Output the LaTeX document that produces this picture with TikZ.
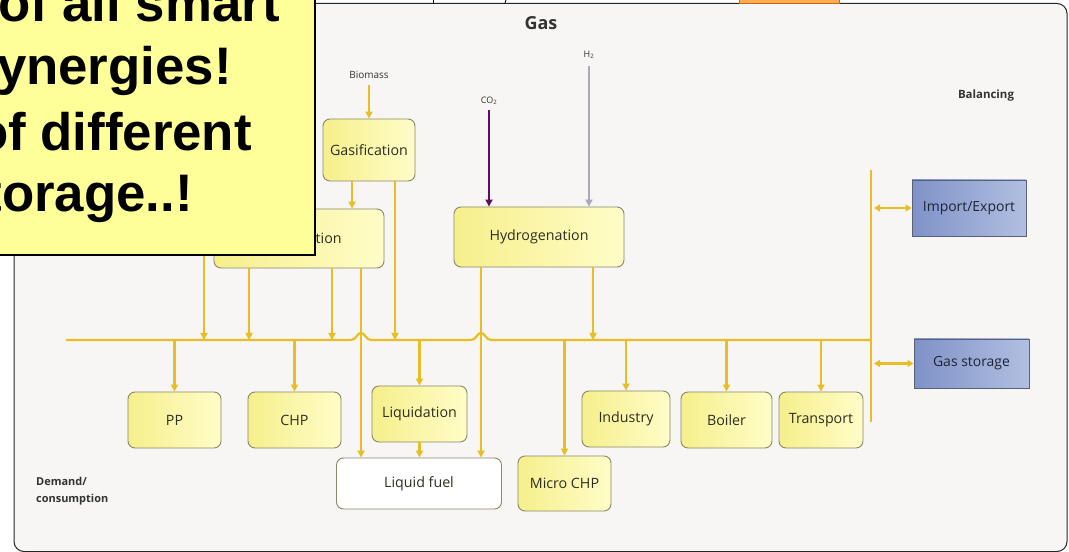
\documentclass[tikz,border=0pt]{standalone}
\usepackage{fontspec}
\setmainfont{Open Sans}
\newfontfamily\calloutfont{Liberation Sans}
\usetikzlibrary{arrows.meta}

\definecolor{flowyellow}{HTML}{E9BD24}
\definecolor{boxA}{HTML}{F6EF8C}
\definecolor{boxB}{HTML}{FFFDC8}
\definecolor{boxline}{HTML}{8A876A}
\definecolor{boxtext}{HTML}{2E2E22}
\definecolor{blueA}{HTML}{7F92C8}
\definecolor{blueB}{HTML}{B1BFE0}
\definecolor{blueline}{HTML}{5B6178}
\definecolor{bluetext}{HTML}{1E2436}
\definecolor{panel}{HTML}{F7F6F4}
\definecolor{calloutyellow}{HTML}{FFFF99}
\definecolor{co2purple}{HTML}{5C0F5E}
\definecolor{h2grey}{HTML}{A9A9B9}
\definecolor{labeltext}{HTML}{333333}

\tikzset{
  flow/.style={draw=flowyellow, line width=2.2bp, -{Triangle[width=7bp,length=7bp]}},
  busline/.style={draw=flowyellow, line width=2.2bp},
  twoway/.style={draw=flowyellow, line width=2.2bp, {Triangle[width=7bp,length=6bp]}-{Triangle[width=7bp,length=6bp]}},
  unit/.style={draw=boxline, line width=0.9bp, rounded corners=7bp, left color=boxA, right color=boxB,
    text=boxtext, font=\fontsize{14.3}{17}\selectfont, inner sep=0pt},
  store/.style={draw=blueline, line width=0.9bp, left color=blueA, right color=blueB,
    text=bluetext, font=\fontsize{14}{17}\selectfont, inner sep=0pt},
  tag/.style={text=labeltext, font=\fontsize{10}{12}\selectfont, inner sep=0pt},
  bigline/.style={font=\calloutfont\bfseries\fontsize{53}{60}\selectfont, anchor=base east, inner sep=0pt}
}

\begin{document}
\begin{tikzpicture}[x=1bp, y=-1bp]
\useasboundingbox (0,0) rectangle (1069,552);
\clip (0,0) rectangle (1069,552);

% panel
\draw[black!85, line width=1bp, fill=panel, rounded corners=10bp] (14,3.5) rectangle (1067,551.5);
\fill[orange!65, draw=orange!80!black, line width=0.6bp] (739,-2) rectangle (839,3);
\draw[black, line width=0.8bp] (433,0) -- (433,3);
\draw[black, line width=0.8bp] (506,0) -- (505,3);

% titles
\node[font=\bfseries\fontsize{18}{20}\selectfont, text=labeltext, inner sep=0pt] (gas) at (541,23) {Gas};
\node[tag, font=\bfseries\fontsize{11.5}{13}\selectfont] (balancing) at (986,96) {Balancing};
\node[tag, font=\bfseries\fontsize{11}{17}\selectfont, align=left, anchor=west] (demand) at (36,491) {Demand/\\consumption};

% inputs
\node[tag] (biomass) at (369,75) {Biomass};
\node[tag, font=\fontsize{9}{10}\selectfont] (co2) at (489,101) {CO\textsubscript{2}};
\node[tag, font=\fontsize{9}{10}\selectfont] (h2) at (589,55) {H\textsubscript{2}};

% conversion
\node[unit, minimum width=92bp, minimum height=62bp] (gasif) at (369,150) {Gasification};
\node[unit, minimum width=170bp, minimum height=59bp] (meth) at (299,238.5) {Methanation};
\node[unit, minimum width=170bp, minimum height=60bp] (hydro) at (539,237) {Hydrogenation};

% demand
\node[unit, minimum width=93bp, minimum height=56bp] (pp) at (174.5,420) {PP};
\node[unit, minimum width=93bp, minimum height=56bp] (chp) at (294.5,420) {CHP};
\node[unit, minimum width=95bp, minimum height=56bp] (liqd) at (419.5,414) {Liquidation};
\node[unit, left color=white, right color=white, minimum width=165bp, minimum height=51bp] (lfuel) at (419,483.5) {Liquid fuel};
\node[unit, minimum width=93bp, minimum height=55bp] (mchp) at (564.5,483.5) {Micro CHP};
\node[unit, minimum width=88bp, minimum height=56bp] (ind) at (626,419) {Industry};
\node[unit, minimum width=91bp, minimum height=56bp] (boil) at (726.5,420) {Boiler};
\node[unit, minimum width=84bp, minimum height=56bp] (trans) at (821,420) {Transport};

% balancing
\node[store, minimum width=114bp, minimum height=56bp] (impexp) at (969,208) {Import/Export};
\node[store, minimum width=115bp, minimum height=49bp] (gstor) at (971.5,363.5) {Gas storage};

\coordinate (busL) at (66,340);
\coordinate (busR) at (871,340);
\coordinate (balT) at (871,170);
\coordinate (balB) at (871,422);
\coordinate (hidden) at (204,240);

% gas grid
\draw[busline] (busL) -- (351,340) .. controls (356,340) and (357,333) .. (361,333)
  .. controls (365,333) and (366,340) .. (371,340) -- (471,340)
  .. controls (476,340) and (477,333) .. (481,333)
  .. controls (485,333) and (486,340) .. (491,340) -- (busR);
\draw[busline] (balT) -- (balB);

% into the grid
\draw[flow] ([yshift=-6bp]biomass.south) -- (gasif.north);
\draw[flow, draw=co2purple] ([yshift=-5bp]co2.south) -- (hydro.north -| co2);
\draw[flow, draw=h2grey] ([yshift=-7bp]h2.south) -- (hydro.north -| h2);
\draw[flow] (352,0 |- gasif.south) -- (352,0 |- meth.north);
\draw[flow] (hidden) -- (204,0 |- busL);
\draw[flow] (249,0 |- meth.south) -- (249,0 |- busL);
\draw[flow] (332,0 |- meth.south) -- (332,0 |- busL);
\draw[flow] (395,0 |- gasif.south) -- (395,0 |- busL);
\draw[flow] (593,0 |- hydro.south) -- (593,0 |- busL);
\draw[flow] (361,0 |- meth.south) -- (361,0 |- lfuel.north);
\draw[flow] (481,0 |- hydro.south) -- (481,0 |- lfuel.north);

% out of the grid
\foreach \dest in {pp,chp,liqd,mchp,ind,boil,trans}
  \draw[flow] (\dest.north |- busL) -- (\dest.north);
\draw[flow] (liqd.south) -- (lfuel.north -| liqd.south);

\draw[twoway] (874,0 |- impexp.west) -- (impexp.west);
\draw[twoway] (874,0 |- gstor.west) -- (gstor.west);

% callout
\draw[black, line width=2.6bp, fill=calloutyellow] (-10,-10) rectangle (315,255);
\node[bigline] (l1) at (280,22) {of all smart};
\node[bigline] (l2) at (232,85) {synergies!};
\node[bigline] (l3) at (252,151) {of different};
\node[bigline] (l4) at (193,212) {storage..!};
\end{tikzpicture}
\end{document}
